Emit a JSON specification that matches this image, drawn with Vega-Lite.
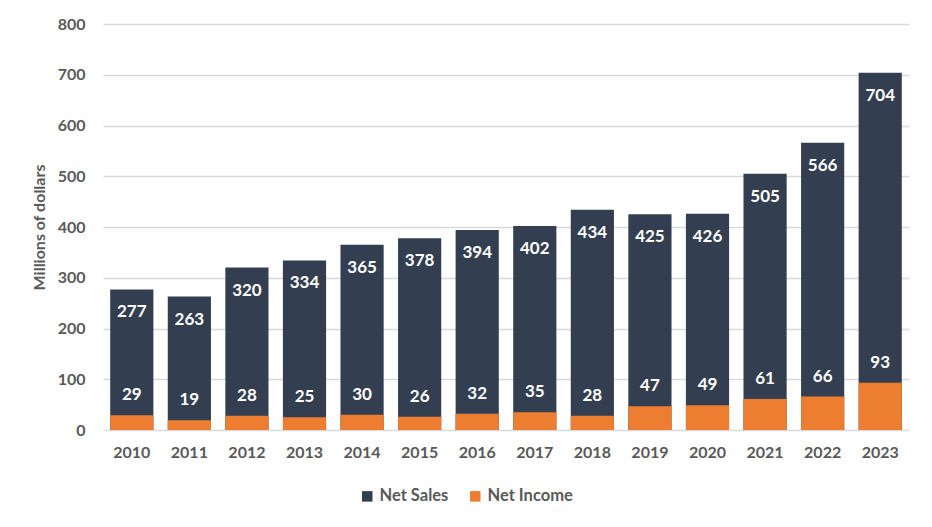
{
  "$schema": "https://vega.github.io/schema/vega-lite/v6.json",
  "autosize": "none",
  "width": 806,
  "height": 406,
  "padding": {"left": 103, "top": 24, "right": 23, "bottom": 97},
  "background": "white",
  "config": {
    "font": "Lato",
    "view": {"stroke": null},
    "axis": {"labelFont": "Lato", "titleFont": "Lato", "labelFontWeight": "bold", "titleFontWeight": "bold", "labelColor": "#595959", "titleColor": "#595959", "labelFontSize": 16, "titleFontSize": 16}
  },
  "data": {
    "values": [
      {"year": "2010", "series": "Net Sales", "value": 277},
      {"year": "2011", "series": "Net Sales", "value": 263},
      {"year": "2012", "series": "Net Sales", "value": 320},
      {"year": "2013", "series": "Net Sales", "value": 334},
      {"year": "2014", "series": "Net Sales", "value": 365},
      {"year": "2015", "series": "Net Sales", "value": 378},
      {"year": "2016", "series": "Net Sales", "value": 394},
      {"year": "2017", "series": "Net Sales", "value": 402},
      {"year": "2018", "series": "Net Sales", "value": 434},
      {"year": "2019", "series": "Net Sales", "value": 425},
      {"year": "2020", "series": "Net Sales", "value": 426},
      {"year": "2021", "series": "Net Sales", "value": 505},
      {"year": "2022", "series": "Net Sales", "value": 566},
      {"year": "2023", "series": "Net Sales", "value": 704},
      {"year": "2010", "series": "Net Income", "value": 29},
      {"year": "2011", "series": "Net Income", "value": 19},
      {"year": "2012", "series": "Net Income", "value": 28},
      {"year": "2013", "series": "Net Income", "value": 25},
      {"year": "2014", "series": "Net Income", "value": 30},
      {"year": "2015", "series": "Net Income", "value": 26},
      {"year": "2016", "series": "Net Income", "value": 32},
      {"year": "2017", "series": "Net Income", "value": 35},
      {"year": "2018", "series": "Net Income", "value": 28},
      {"year": "2019", "series": "Net Income", "value": 47},
      {"year": "2020", "series": "Net Income", "value": 49},
      {"year": "2021", "series": "Net Income", "value": 61},
      {"year": "2022", "series": "Net Income", "value": 66},
      {"year": "2023", "series": "Net Income", "value": 93}
    ]
  },
  "encoding": {
    "x": {
      "field": "year", "type": "nominal", "title": null,
      "scale": {"paddingInner": 0.25, "paddingOuter": 0.125},
      "axis": {"labelAngle": 0, "ticks": false, "domain": false, "labelPadding": 14}
    },
    "y": {
      "field": "value", "type": "quantitative", "title": "Millions of dollars",
      "scale": {"domain": [0, 800]},
      "axis": {"values": [0, 100, 200, 300, 400, 500, 600, 700, 800], "ticks": false, "domain": false, "gridColor": "#D9D9D9", "gridWidth": 1.5, "labelPadding": 18, "titlePadding": 10}
    }
  },
  "layer": [
    {
      "mark": {"type": "bar"},
      "encoding": {
        "y": {"field": "value", "type": "quantitative", "stack": null},
        "color": {
          "field": "series", "type": "nominal",
          "scale": {"domain": ["Net Sales", "Net Income"], "range": ["#333F50", "#ED7D31"]},
          "legend": {"title": null, "orient": "none", "direction": "horizontal", "legendX": 256, "legendY": 464, "symbolType": "square", "symbolSize": 110, "symbolStrokeWidth": 0, "labelFont": "Lato", "labelFontSize": 16.5, "labelFontWeight": "bold", "labelColor": "#595959", "columnPadding": 18, "labelOffset": 4}
        }
      }
    },
    {
      "transform": [{"filter": "datum.series == 'Net Sales'"}],
      "mark": {"type": "text", "color": "white", "fontWeight": "bold", "fontSize": 17, "baseline": "middle", "dy": 23},
      "encoding": {"text": {"field": "value"}}
    },
    {
      "transform": [{"filter": "datum.series == 'Net Income'"}],
      "mark": {"type": "text", "color": "white", "fontWeight": "bold", "fontSize": 17, "baseline": "middle", "dy": -20},
      "encoding": {"text": {"field": "value"}}
    }
  ]
}
